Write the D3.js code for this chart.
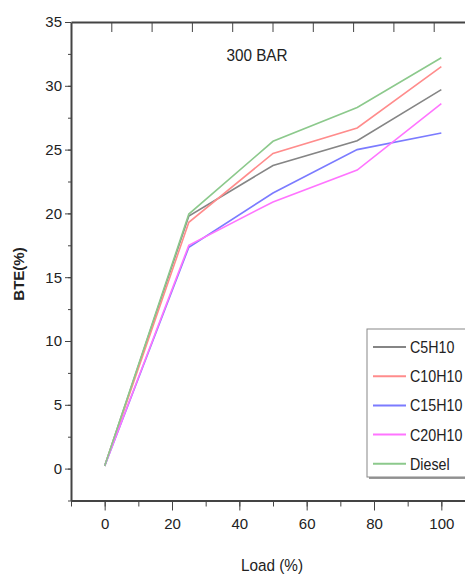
<!DOCTYPE html>
<meta charset="utf-8">
<style>
body{margin:0;background:#fff;}
text{font-family:"Liberation Sans",Arial,sans-serif;fill:#222;}
.axis path,.axis line{stroke:#444;}
.axis path{stroke-width:2px;}
.axis text{font-size:15px;}
.series{fill:none;stroke-width:1.6px;}
</style>
<body>
<script src="https://d3js.org/d3.v7.min.js"></script>
<script>

var loads=[0,25,50,75,100];
var names=["C5H10","C10H10","C15H10","C20H10","Diesel"];
var c5h10=[0.2,19.8,23.75,25.7,29.7];
var c10h10=[0.2,19.3,24.7,26.7,31.5];
var c15h10=[0.2,17.35,21.6,25.0,26.3];
var c20h10=[0.2,17.5,20.9,23.4,28.6];
var diesel=[0.2,19.95,25.65,28.3,32.2];
var xTicks=[0,20,40,60,80,100];
var yTicks=[0,5,10,15,20,25,30,35];
var colors=["#858585","#ff8c8c","#7b7bff","#ff74ff","#8cc98c"];

var series=[c5h10,c10h10,c15h10,c20h10,diesel];

var svg=d3.select("body").append("svg").attr("width",465).attr("height",575);

var x=d3.scaleLinear().domain([-10,110]).range([71,475]);
var xTop=d3.scaleLinear().domain([-10,110]).range([71,554.6]);
var y=d3.scaleLinear().domain([-2.5,35]).range([500.5,22]);

// minor ticks first
svg.append("g").attr("class","axis").attr("transform","translate(0,500.5)")
	.call(d3.axisBottom(x).tickValues(d3.range(-10,111,10)).tickSize(6).tickFormat(""))
	.select(".domain").remove();
svg.append("g").attr("class","axis").attr("transform","translate(71,0)")
	.call(d3.axisLeft(y).tickValues(d3.range(-2.5,35.1,2.5)).tickSize(3).tickFormat(""))
	.select(".domain").remove();

svg.append("g").attr("class","axis").attr("transform","translate(0,500.5)")
	.call(d3.axisBottom(x).tickValues(xTicks).tickSize(10).tickPadding(8).tickSizeOuter(0));
svg.append("g").attr("class","axis").attr("transform","translate(71,0)")
	.call(d3.axisLeft(y).tickValues(yTicks).tickSize(6).tickPadding(3).tickSizeOuter(0));
svg.append("g").attr("class","axis").attr("transform","translate(0,22)")
	.call(d3.axisBottom(xTop).tickValues(d3.range(0,81,10)).tickSize(10).tickFormat("").tickSizeOuter(0));

var line=d3.line().x(function(d,i){return x(loads[i]);}).y(function(d){return y(d);});

svg.selectAll(".series").data(series).enter().append("path")
	.attr("class","series")
	.attr("stroke",function(d,i){return colors[i];})
	.attr("d",line);

svg.append("text").attr("transform","translate(257,61) scale(0.9,1)").attr("text-anchor","middle")
	.style("font-size","17px").text("300 BAR");

svg.append("text").attr("transform","translate(24,274) rotate(-90)")
	.attr("text-anchor","middle")
	.style("font-weight","bold").style("font-size","15px").text("BTE(%)");

svg.append("text").attr("transform","translate(272,571) scale(0.9,1)").attr("text-anchor","middle")
	.style("font-size","17px").text("Load (%)");

// legend
var lg=svg.append("g").attr("transform","translate(367,329)");
lg.append("rect").attr("x",2).attr("y",2).attr("width",120).attr("height",148).attr("fill","#999");
lg.append("rect").attr("width",120).attr("height",148).attr("fill","#fff").attr("stroke","#888").attr("stroke-width",1);
var item=lg.selectAll(".item").data(names).enter().append("g")
	.attr("transform",function(d,i){return "translate(0,"+(18+i*29.2)+")";});
item.append("line").attr("x1",6).attr("x2",39).attr("stroke",function(d,i){return colors[i];}).attr("stroke-width",2);
item.append("text").attr("transform","translate(43,6) scale(0.84,1)").style("font-size","17px").text(function(d){return d;});

</script>
</body>
</html>
